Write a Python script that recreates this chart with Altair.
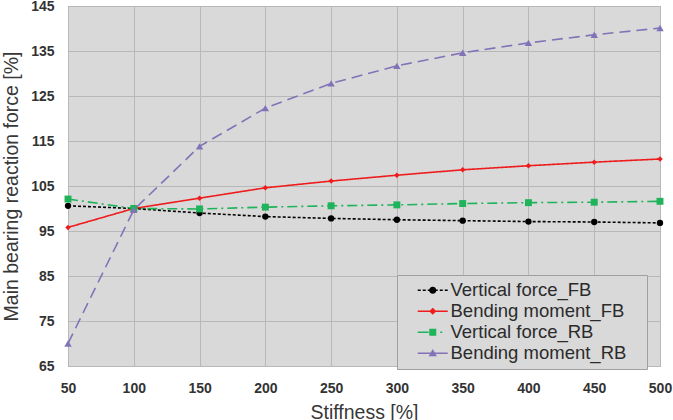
import altair as alt
import pandas as pd

stiffness = [50, 100, 150, 200, 250, 300, 350, 400, 450, 500]
vf_fb = [100.6, 100.0, 99.0, 98.2, 97.8, 97.5, 97.3, 97.1, 97.0, 96.8]
bm_fb = [95.8, 100.0, 102.3, 104.6, 106.1, 107.4, 108.6, 109.5, 110.3, 111.0]
vf_rb = [102.1, 100.0, 99.9, 100.3, 100.6, 100.8, 101.1, 101.3, 101.4, 101.6]
bm_rb = [70.0, 99.7, 113.8, 122.3, 127.8, 131.7, 134.6, 136.8, 138.6, 140.1]
series_names = ["Vertical force_FB", "Bending moment_FB", "Vertical force_RB", "Bending moment_RB"]
y_ticks = [65, 75, 85, 95, 105, 115, 125, 135, 145]
x_ticks = [50, 100, 150, 200, 250, 300, 350, 400, 450, 500]

colors = ["#000000", "#ee1c1c", "#1fb35a", "#8273b8"]
dashes = [[3, 2], [1, 0], [10, 4, 2, 4], [11, 6]]
shapes = ["circle", "diamond", "square", "triangle-up"]
sizes = [40, 30, 48, 55]

rows = []
for name, vals in zip(series_names, [vf_fb, bm_fb, vf_rb, bm_rb]):
    for s, v in zip(stiffness, vals):
        rows.append({"stiffness": s, "value": v, "series": name})
df = pd.DataFrame(rows)

# ---- legend symbol paths (line + marker), px relative to the symbol origin ----
S = 5.0  # px per unit for symbol size 100
X0 = 5.5  # where the symbol starts, px right of its origin


def u(x, y):
    return f"{(x + X0) / S:.3f},{y / S:.3f}"


def rect(x0, x1, h=0.8):
    return f"M{u(x0, -h)}L{u(x1, -h)}L{u(x1, h)}L{u(x0, h)}Z"


def circle(cx, r):
    ru = r / S
    return (f"M{u(cx + r, 0)}A{ru:.3f},{ru:.3f} 0 1 1 {u(cx - r, 0)}"
            f"A{ru:.3f},{ru:.3f} 0 1 1 {u(cx + r, 0)}Z")


def poly(pts):
    return "M" + "L".join(u(x, y) for x, y in pts) + "Z"


# symbol spans 0..30 px, marker at 15
leg_paths = [
    rect(0, 3) + rect(5, 8) + rect(10, 12) + circle(15, 3.6) + rect(18, 20) + rect(22, 25) + rect(27, 30),
    rect(0, 30) + poly([(15, -3.6), (18.6, 0), (15, 3.6), (11.4, 0)]),
    rect(0, 11) + poly([(11.5, -3.5), (18.5, -3.5), (18.5, 3.5), (11.5, 3.5)]) + rect(22.5, 24.5),
    rect(0, 30) + poly([(15, -4.2), (19.2, 3), (10.8, 3)]),
]

color_scale = alt.Scale(domain=series_names, range=colors)

x_enc = alt.X("stiffness:Q", scale=alt.Scale(domain=[50, 500], nice=False),
              axis=alt.Axis(values=x_ticks, title="Stiffness [%]"))
y_enc = alt.Y("value:Q", scale=alt.Scale(domain=[65, 145], nice=False),
              axis=alt.Axis(values=y_ticks, title="Main bearing reaction force [%]"))

base = alt.Chart(df)

layers = []
for name, col, dash, shp, sz in zip(series_names, colors, dashes, shapes, sizes):
    sub = base.transform_filter(alt.datum.series == name)
    layers.append(sub.mark_line(strokeWidth=1.6, color=col, strokeDash=dash).encode(x=x_enc, y=y_enc))
    layers.append(sub.mark_point(filled=True, opacity=1, shape=shp, size=sz, color=col).encode(x=x_enc, y=y_enc))

legend = alt.Legend(
    title=None, orient="none", legendX=329, legendY=269,
    fillColor="#d9d9d9", strokeColor="#a0a0a0", padding=6,
    symbolSize=100, symbolStrokeWidth=0, symbolOpacity=1,
    labelFont="Liberation Sans", labelFontSize=18.5, labelColor="#2b2b2b",
    labelOffset=29, rowPadding=2, labelLimit=0,
    labelExpr="datum.label + '\u2800'",
)

legend_layer = base.transform_filter("datum.stiffness < 0").mark_point(
    filled=True, opacity=1
).encode(
    x=x_enc, y=y_enc,
    color=alt.Color("series:N", scale=color_scale, legend=legend),
    shape=alt.Shape("series:N", scale=alt.Scale(domain=series_names, range=leg_paths), legend=legend),
)

chart = alt.layer(*layers, legend_layer).properties(
    width=592, height=360,
    autosize=alt.AutoSizeParams(type="none"),
    padding={"left": 68, "top": 6, "right": 13, "bottom": 54},
    background="white",
).configure_view(
    fill="#d9d9d9", stroke="#8c8c8c", strokeWidth=1
).configure_axis(
    grid=True, gridColor="#b8b8b8", gridWidth=1, ticks=False, domain=False,
    labelFlush=False, labelOverlap=False,
    labelFont="Liberation Sans", labelFontWeight="bold", labelFontSize=14, labelColor="#333333",
    titleFont="Liberation Sans", titleFontWeight="normal", titleFontSize=19.5, titleColor="#383838",
).configure_axisY(
    labelPadding=14, titlePadding=9,
).configure_axisX(
    labelPadding=15, titlePadding=8,
)

chart.save("out.html", embed_options={"renderer": "svg", "actions": False})
